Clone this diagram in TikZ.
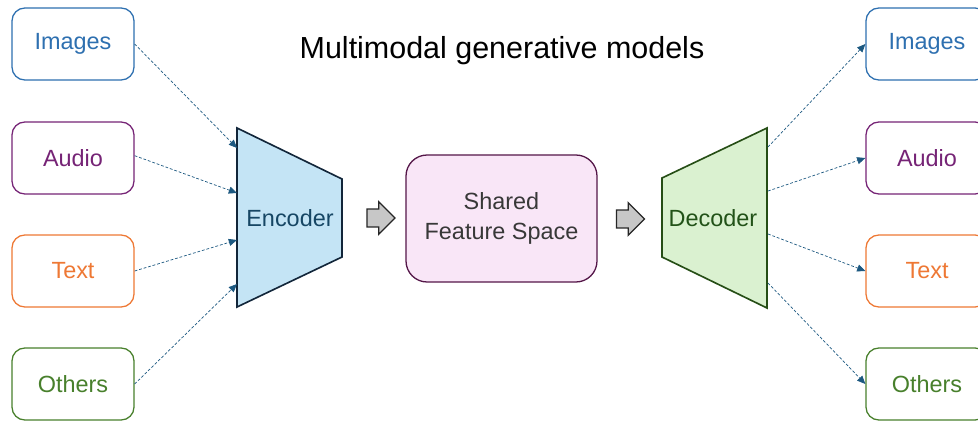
\documentclass[tikz,border=0pt]{standalone}
\usepackage{fontspec}
\setmainfont{Liberation Sans}
\usepackage{xcolor}
\usepackage{tikz}
\usetikzlibrary{arrows.meta,positioning,calc,shapes.arrows}
\definecolor{imgc}{RGB}{46,112,176}
\definecolor{audc}{RGB}{118,36,118}
\definecolor{txtc}{RGB}{238,120,52}
\definecolor{othc}{RGB}{72,128,44}
\definecolor{link}{RGB}{28,88,128}
\definecolor{encfill}{RGB}{196,228,245}
\definecolor{encline}{RGB}{18,38,58}
\definecolor{encfont}{RGB}{22,70,100}
\definecolor{decfill}{RGB}{218,241,208}
\definecolor{decline}{RGB}{38,78,22}
\definecolor{decfont}{RGB}{34,82,24}
\definecolor{sharedfill}{RGB}{249,230,247}
\definecolor{sharedline}{RGB}{84,22,72}
\tikzset{
  modal/.style={draw=#1, text=#1, line width=1.1pt, rounded corners=11pt, fill=white,
    minimum width=3.66cm, minimum height=2.16cm, font=\fontsize{20}{24}\selectfont},
  coder/.style={line width=1.4pt, line join=miter},
  link/.style={draw=link, line width=0.6pt, dash pattern=on 2.4pt off 1.6pt,
    -{Triangle[length=7pt,width=6pt]}},
  pass/.style={single arrow, draw=black!85, fill=black!22, line width=1.1pt,
    minimum height=0.84cm, single arrow head extend=0.22cm,
    single arrow tip angle=90, inner xsep=0pt, inner ysep=0.25cm}
}
\begin{document}
\begin{tikzpicture}[x=0.03cm, y=-0.03cm]
    \useasboundingbox (0,0) rectangle (978,422);
    \node[font=\fontsize{26}{30}\selectfont] (title) at (502,51) {Multimodal generative models};

    % inputs
    \node[modal=imgc] (inimg) at (73,44) {Images};
    \node[modal=audc] (inaud) at (73,158) {Audio};
    \node[modal=txtc] (intxt) at (73,271) {Text};
    \node[modal=othc] (inoth) at (73,384) {Others};

    % encoder
    \draw[coder, draw=encline, fill=encfill] (237,128) -- (342,179) -- (342,257) -- (237,307) -- cycle;
    \node[text=encfont, font=\fontsize{20}{24}\selectfont] (enc) at (290,218) {Encoder};

    % shared space
    \node[draw=sharedline, fill=sharedfill, line width=1.1pt, rounded corners=18pt,
      minimum width=5.73cm, minimum height=3.81cm, align=center, text=black!78,
      font=\fontsize{20}{25}\selectfont] (shared) at (501.5,218.5) {Shared\\Feature Space};

    % decoder
    \draw[coder, draw=decline, fill=decfill] (662,178) -- (767,128) -- (767,308) -- (662,257) -- cycle;
    \node[text=decfont, font=\fontsize{20}{24}\selectfont] (dec) at (713,218) {Decoder};

    % outputs
    \node[modal=imgc] (outimg) at (927,44) {Images};
    \node[modal=audc] (outaud) at (927,158) {Audio};
    \node[modal=txtc] (outtxt) at (927,271) {Text};
    \node[modal=othc] (outoth) at (927,384) {Others};

    \node[pass] (pass1) at (376.5,218) {};
    \node[pass] (pass2) at (626,219) {};

    \coordinate (encimg) at (237,148);
    \coordinate (encaud) at (237,193);
    \coordinate (enctxt) at (237,240);
    \coordinate (encoth) at (237,284);
    \coordinate (decimg) at (768,147);
    \coordinate (decaud) at (768,191);
    \coordinate (dectxt) at (768,234);
    \coordinate (decoth) at (768,283);

    \draw[link] (inimg.east) -- (encimg);
    \draw[link] ([yshift=2pt]inaud.east) -- (encaud);
    \draw[link] (intxt.east) -- (enctxt);
    \draw[link] (inoth.east) -- (encoth);
    \draw[link] (decimg) -- (outimg.west);
    \draw[link] (decaud) -- (outaud.west);
    \draw[link] (dectxt) -- (outtxt.west);
    \draw[link] (decoth) -- (outoth.west);
  \end{tikzpicture}
\end{document}
